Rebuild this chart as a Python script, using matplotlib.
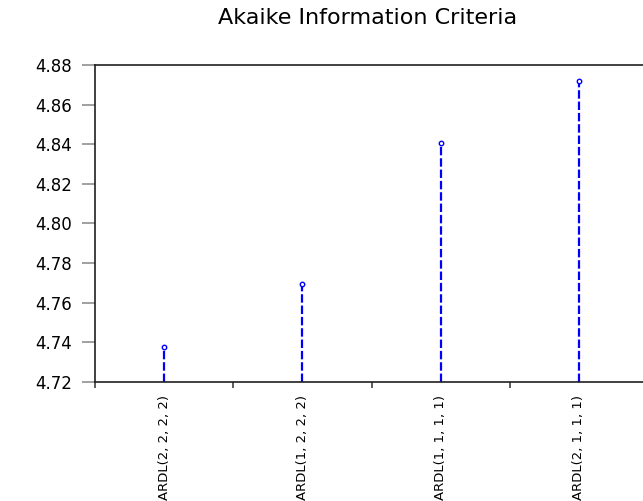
import matplotlib
matplotlib.use("Agg")
import matplotlib.pyplot as plt
from matplotlib import font_manager

# Daten
models = ["ARDL(2, 2, 2, 2)", "ARDL(1, 2, 2, 2)", "ARDL(1, 1, 1, 1)", "ARDL(2, 1, 1, 1)"]
aic = [4.7378, 4.7693, 4.8405, 4.8720]
yticks = [4.72, 4.74, 4.76, 4.78, 4.80, 4.82, 4.84, 4.86, 4.88]


def font_ok(name):
    try:
        font_manager.findfont(font_manager.FontProperties(family=name), fallback_to_default=False)
        return True
    except Exception:
        return False


narrow = font_ok("Liberation Sans Narrow")
lab_family = ["Liberation Sans Narrow", "DejaVu Sans"] if narrow else ["DejaVu Sans"]
lab_size = 12 if narrow else 9.5

fig = plt.figure(figsize=(6.43, 5.01), dpi=100)
ax = fig.add_axes([95/643, 1 - 382/501, 553/643, 317/501])

x = [i + 0.5 for i in range(len(models))]
ymin, ymax = 4.72, 4.88

# Stiele
ax.vlines(x, ymin, aic, colors="#0000ff", linewidth=1.6, linestyles=(0, (3.8, 1.3)))
ax.plot(x, aic, linestyle="none", marker="o", markersize=3.2,
        markerfacecolor="white", markeredgecolor="#0000ff", markeredgewidth=1)

ax.set_xlim(0, len(models))
ax.set_ylim(ymin, ymax)

ax.set_yticks(yticks)
ax.set_yticklabels([f"{v:.2f}" for v in yticks], fontsize=12, family="DejaVu Sans")
ax.tick_params(axis="y", direction="out", length=9.5, width=1.2, color="#909090", pad=7)

ax.set_xticks(range(len(models)))
ax.set_xticklabels([])
ax.tick_params(axis="x", which="major", direction="out", length=4.5, width=1.2, color="#404040")
ax.set_xticks(x, minor=True)
ax.set_xticklabels(models, minor=True, rotation=90, fontsize=lab_size, family=lab_family,
                   va="top", ha="center")
ax.tick_params(axis="x", which="minor", length=0, pad=9.5)

for s in ["left", "top", "bottom"]:
    ax.spines[s].set_linewidth(1.2)
    ax.spines[s].set_color("#202020")
ax.spines["right"].set_visible(False)

fig.text(368/643, 1 - 24/501, "Akaike Information Criteria", ha="center", va="baseline",
         fontsize=16, family="DejaVu Sans")

fig.savefig("out.png", dpi=100)
